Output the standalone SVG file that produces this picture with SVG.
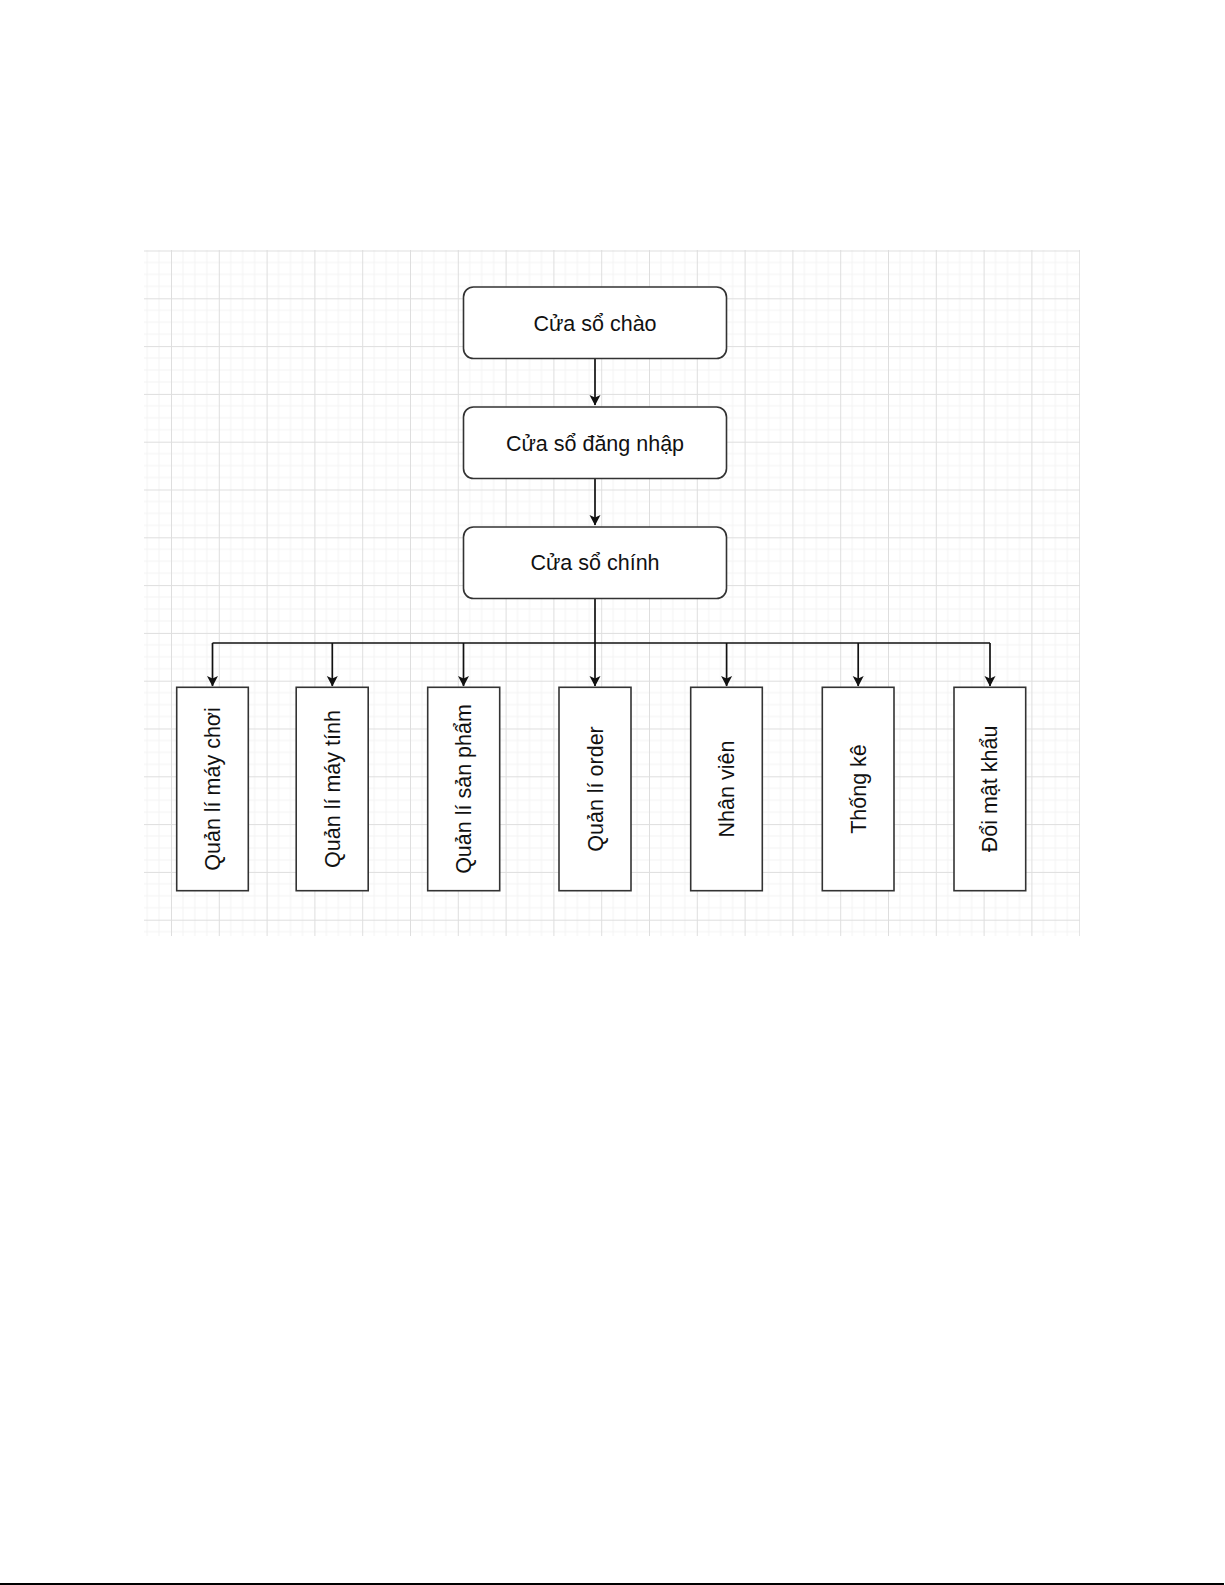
<svg xmlns="http://www.w3.org/2000/svg" width="1225" height="1585" viewBox="0 0 1225 1585">
<defs>
<pattern id="grid" patternUnits="userSpaceOnUse" x="171" y="250.5" width="47.8" height="47.8">
<path d="M11.95 0V47.8M23.9 0V47.8M35.85 0V47.8M0 11.95H47.8M0 23.9H47.8M0 35.85H47.8" stroke="#f3f3f3" stroke-width="1" fill="none"/>
<path d="M0.5 0V47.8M0 0.5H47.8" stroke="#dedede" stroke-width="1" fill="none"/>
</pattern>
<marker id="arr" markerWidth="12" markerHeight="12" refX="10" refY="5.5" orient="auto" markerUnits="userSpaceOnUse" viewBox="0 0 12 11">
<path d="M0 0L10.5 5.5L0 11L2.5 5.5Z" fill="#111"/>
</marker>
</defs>
<style>
.rbox{fill:#fff;stroke:#333;stroke-width:1.6}
.box{fill:#fff;stroke:#333;stroke-width:1.6}
.t{font-family:"Liberation Sans",Arial,sans-serif;font-size:21.5px;fill:#111;text-anchor:middle}
.c{fill:none;stroke:#111;stroke-width:1.7}
</style>
<rect x="0" y="0" width="1225" height="1585" fill="#fff"/>
<rect x="144" y="250" width="936" height="686" fill="url(#grid)"/>
<g id="connectors">
<path class="c" d="M595 358V405" marker-end="url(#arr)"/>
<path class="c" d="M595 478V525" marker-end="url(#arr)"/>
<path class="c" d="M595 598V643"/>
<path class="c" d="M212.5 643H990"/>
<path class="c" d="M212.5 643V686" marker-end="url(#arr)"/>
<path class="c" d="M332.3 643V686" marker-end="url(#arr)"/>
<path class="c" d="M463.5 643V686" marker-end="url(#arr)"/>
<path class="c" d="M595 643V686" marker-end="url(#arr)"/>
<path class="c" d="M726.6 643V686" marker-end="url(#arr)"/>
<path class="c" d="M858.2 643V686" marker-end="url(#arr)"/>
<path class="c" d="M990 643V686" marker-end="url(#arr)"/>
</g>
<g id="n-chao"><rect class="rbox" x="463.5" y="287" width="263" height="71.5" rx="10"/><text class="t" x="595" y="330.5">Cửa sổ chào</text></g>
<g id="n-dangnhap"><rect class="rbox" x="463.5" y="407" width="263" height="71.5" rx="10"/><text class="t" x="595" y="450.5">Cửa sổ đăng nhập</text></g>
<g id="n-chinh"><rect class="rbox" x="463.5" y="527" width="263" height="71.5" rx="10"/><text class="t" x="595" y="570">Cửa sổ chính</text></g>
<g id="n-maychoi"><rect class="box" x="176.7" y="687.3" width="71.6" height="203.4"/><text class="t" transform="translate(220 789) rotate(-90)">Quản lí máy chơi</text></g>
<g id="n-maytinh"><rect class="box" x="296.2" y="687.3" width="72" height="203.4"/><text class="t" transform="translate(339.8 789) rotate(-90)">Quản lí máy tính</text></g>
<g id="n-sanpham"><rect class="box" x="427.7" y="687.3" width="72" height="203.4"/><text class="t" transform="translate(471.2 789) rotate(-90)">Quản lí sản phẩm</text></g>
<g id="n-order"><rect class="box" x="559" y="687.3" width="72" height="203.4"/><text class="t" transform="translate(602.5 789) rotate(-90)">Quản lí order</text></g>
<g id="n-nhanvien"><rect class="box" x="690.7" y="687.3" width="71.6" height="203.4"/><text class="t" transform="translate(734 789) rotate(-90)">Nhân viên</text></g>
<g id="n-thongke"><rect class="box" x="822.3" y="687.3" width="71.7" height="203.4"/><text class="t" transform="translate(865.7 789) rotate(-90)">Thống kê</text></g>
<g id="n-doimatkhau"><rect class="box" x="954" y="687.3" width="71.7" height="203.4"/><text class="t" transform="translate(997.4 789) rotate(-90)">Đổi mật khẩu</text></g>
<rect x="0" y="1583" width="1224" height="2" fill="#000"/>
</svg>
